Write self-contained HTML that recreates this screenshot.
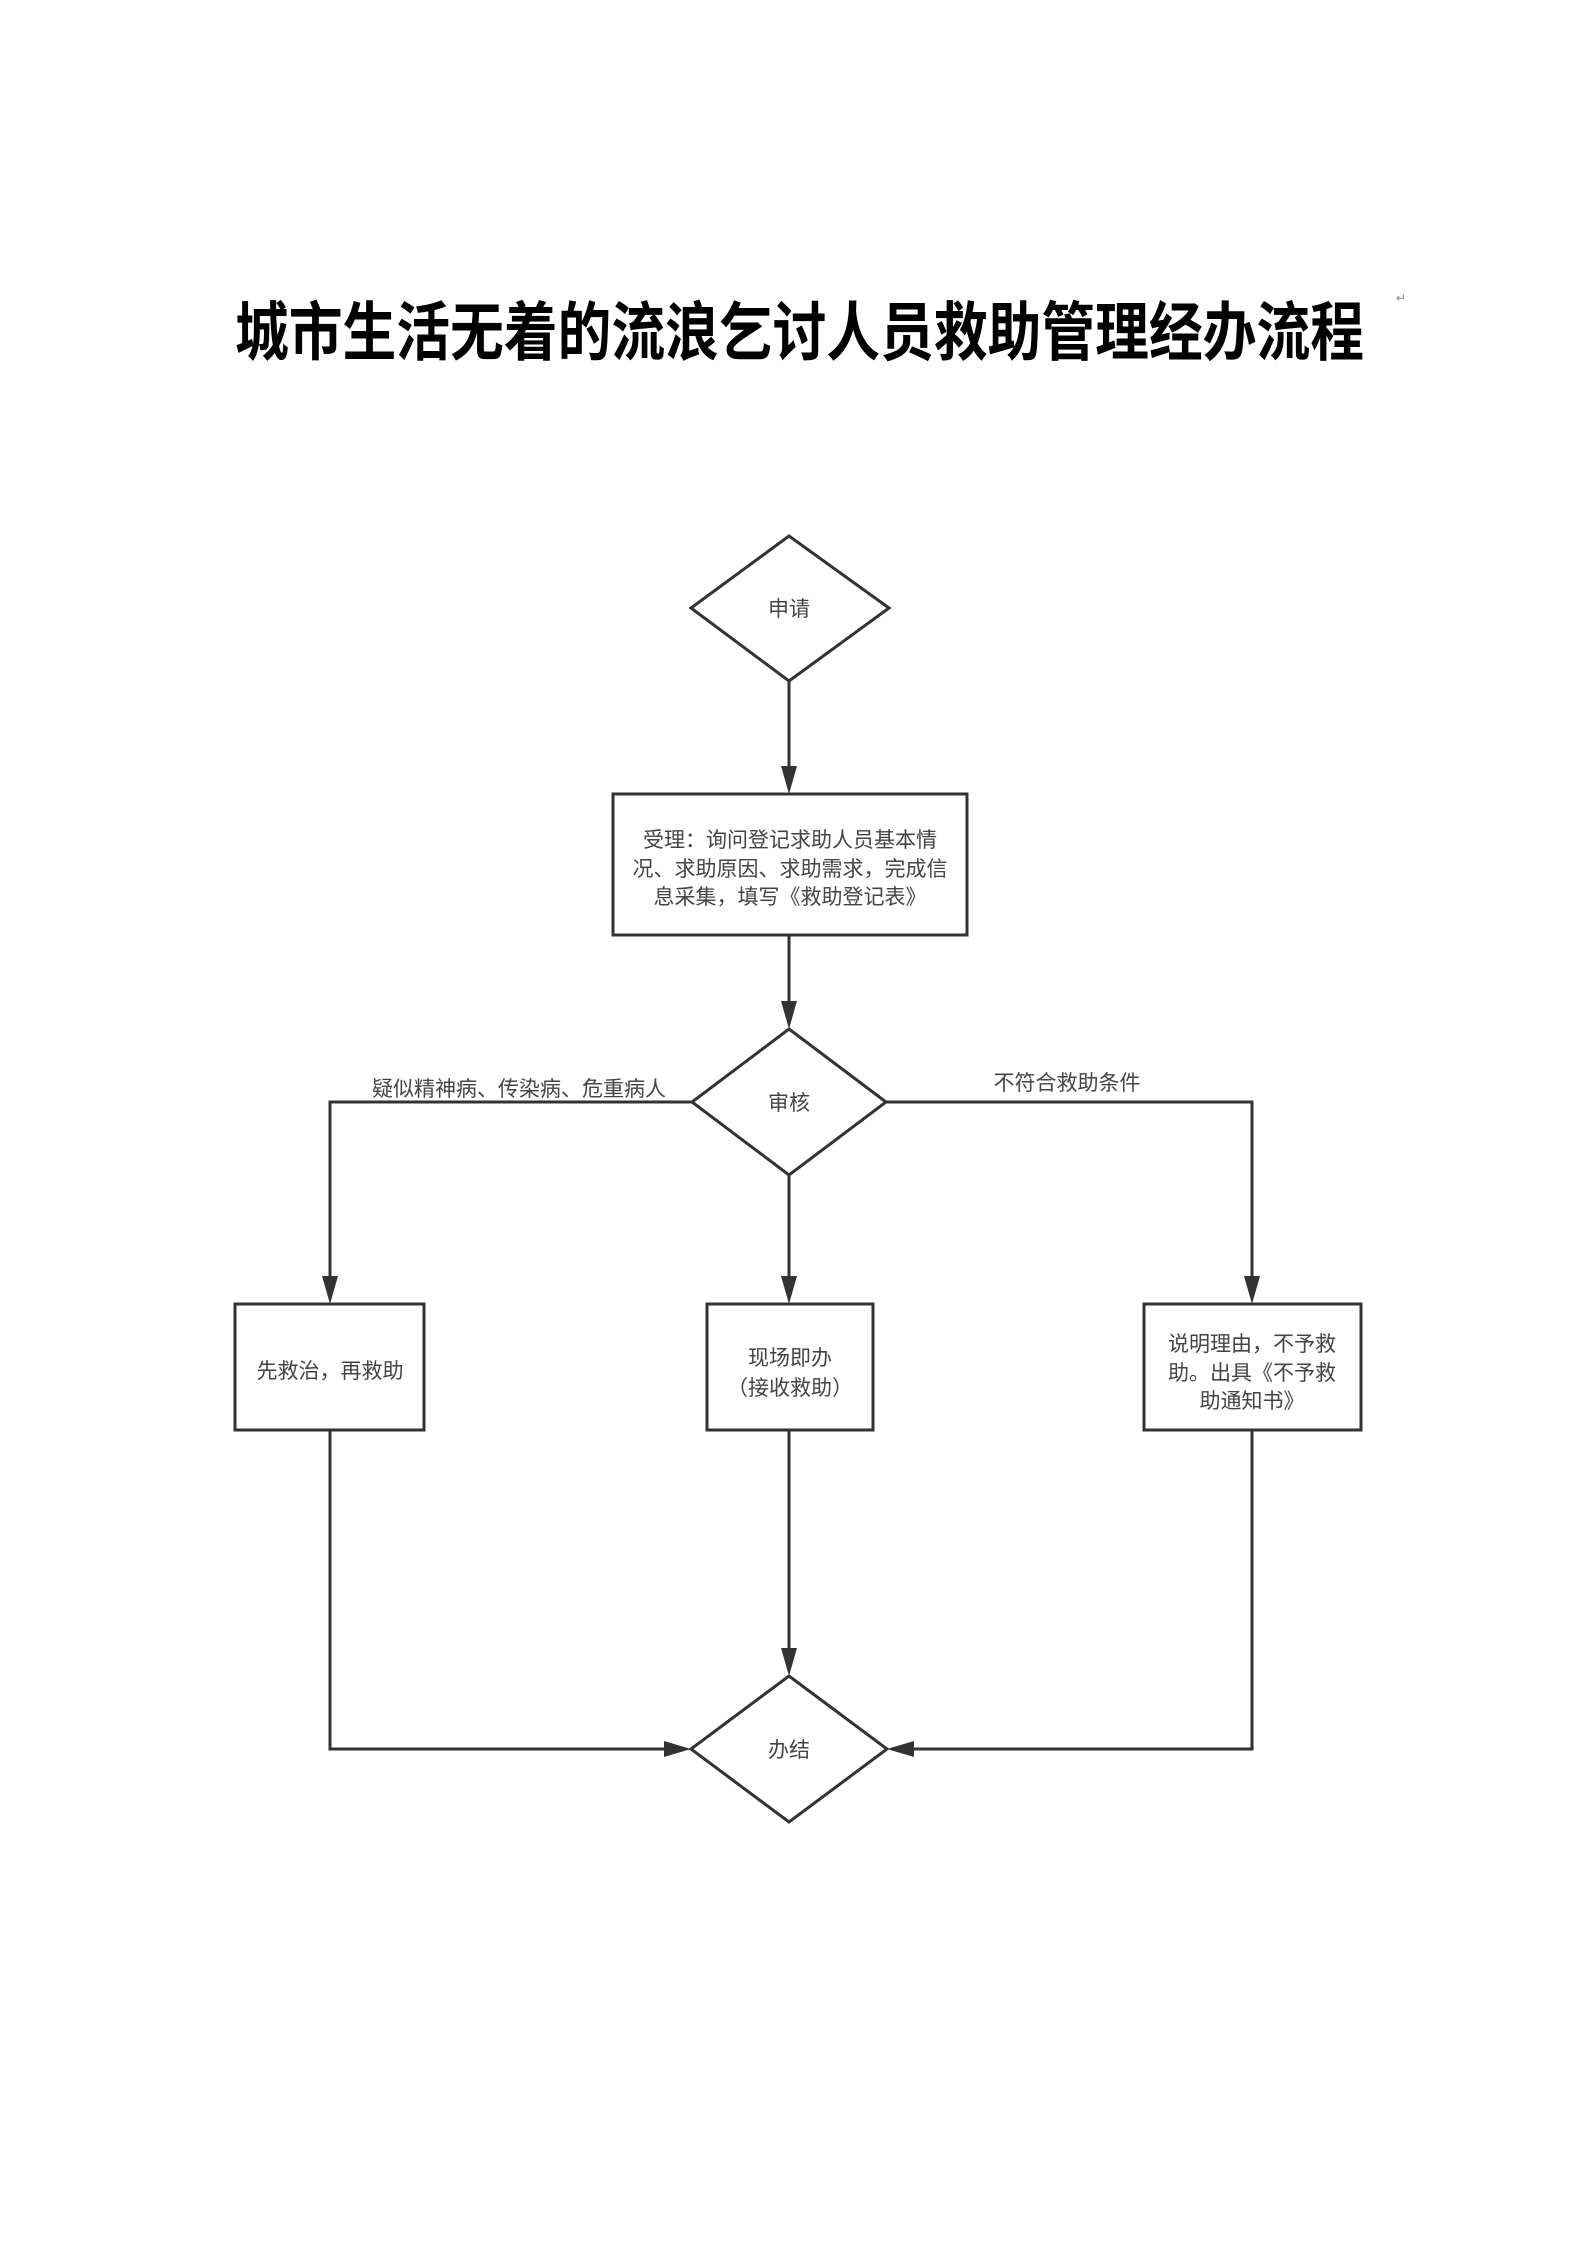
<!DOCTYPE html>
<html><head><meta charset="utf-8"><style>
html,body{margin:0;padding:0;background:#fff;}
svg{display:block;}
text{font-family:"Liberation Sans","Noto Sans CJK SC",sans-serif;}
</style></head><body>
<svg width="1587" height="2245" viewBox="0 0 1587 2245" xmlns="http://www.w3.org/2000/svg">
<defs>
<marker id="ah" markerWidth="10" markerHeight="10" refX="10" refY="5" orient="auto" markerUnits="userSpaceOnUse" viewBox="0 0 10 10">
</marker>
</defs>
<!-- title -->
<text x="235" y="352" textLength="1129" lengthAdjust="spacingAndGlyphs" font-size="56" font-weight="bold" fill="#000" style="font-family:'Noto Sans CJK SC',sans-serif" transform="translate(0,-50) scale(1,1.15)">城市生活无着的流浪乞讨人员救助管理经办流程</text>
<text x="1396" y="302" font-size="12" fill="#888">↵</text>

<g stroke="#333" stroke-width="3" fill="none">
<!-- diamonds -->
<polygon points="789,536 889,608 789,681 691,608" fill="#fff"/>
<polygon points="789,1029 886,1102 789,1175 692,1102" fill="#fff"/>
<polygon points="789,1676 887,1749 789,1822 691,1749" fill="#fff"/>
<!-- boxes -->
<rect x="613" y="794" width="354" height="141" fill="#fff"/>
<rect x="235" y="1304" width="189" height="126" fill="#fff"/>
<rect x="707" y="1304" width="166" height="126" fill="#fff"/>
<rect x="1144" y="1304" width="217" height="126" fill="#fff"/>
<!-- connectors -->
<line x1="789" y1="681" x2="789" y2="770"/>
<line x1="789" y1="935" x2="789" y2="1005"/>
<polyline points="692,1102 330,1102 330,1280"/>
<polyline points="886,1102 1252,1102 1252,1280"/>
<line x1="789" y1="1175" x2="789" y2="1280"/>
<polyline points="330,1430 330,1749 668,1749"/>
<polyline points="1252,1430 1252,1749 910,1749"/>
<line x1="789" y1="1430" x2="789" y2="1652"/>
</g>
<g fill="#333">
<polygon points="781,766 797,766 789,794"/>
<polygon points="781,1001 797,1001 789,1029"/>
<polygon points="322,1276 338,1276 330,1304"/>
<polygon points="781,1276 797,1276 789,1304"/>
<polygon points="1244,1276 1260,1276 1252,1304"/>
<polygon points="781,1648 797,1648 789,1676"/>
<polygon points="664,1741 664,1757 691,1749"/>
<polygon points="914,1741 914,1757 887,1749"/>
</g>
<g fill="#444" font-size="21" text-anchor="middle">
<text x="789" y="616">申请</text>
<text x="789" y="1110">审核</text>
<text x="789" y="1757">办结</text>
<text x="790" y="847">受理：询问登记求助人员基本情</text>
<text x="790" y="876">况、求助原因、求助需求，完成信</text>
<text x="790" y="904">息采集，填写《救助登记表》</text>
<text x="330" y="1378">先救治，再救助</text>
<text x="790" y="1365">现场即办</text>
<text x="790" y="1395">（接收救助）</text>
<text x="1252" y="1351">说明理由，不予救</text>
<text x="1252" y="1380">助。出具《不予救</text>
<text x="1252" y="1408">助通知书》</text>
<text x="519" y="1096">疑似精神病、传染病、危重病人</text>
<text x="1067" y="1090">不符合救助条件</text>
</g>
</svg>
</body></html>
